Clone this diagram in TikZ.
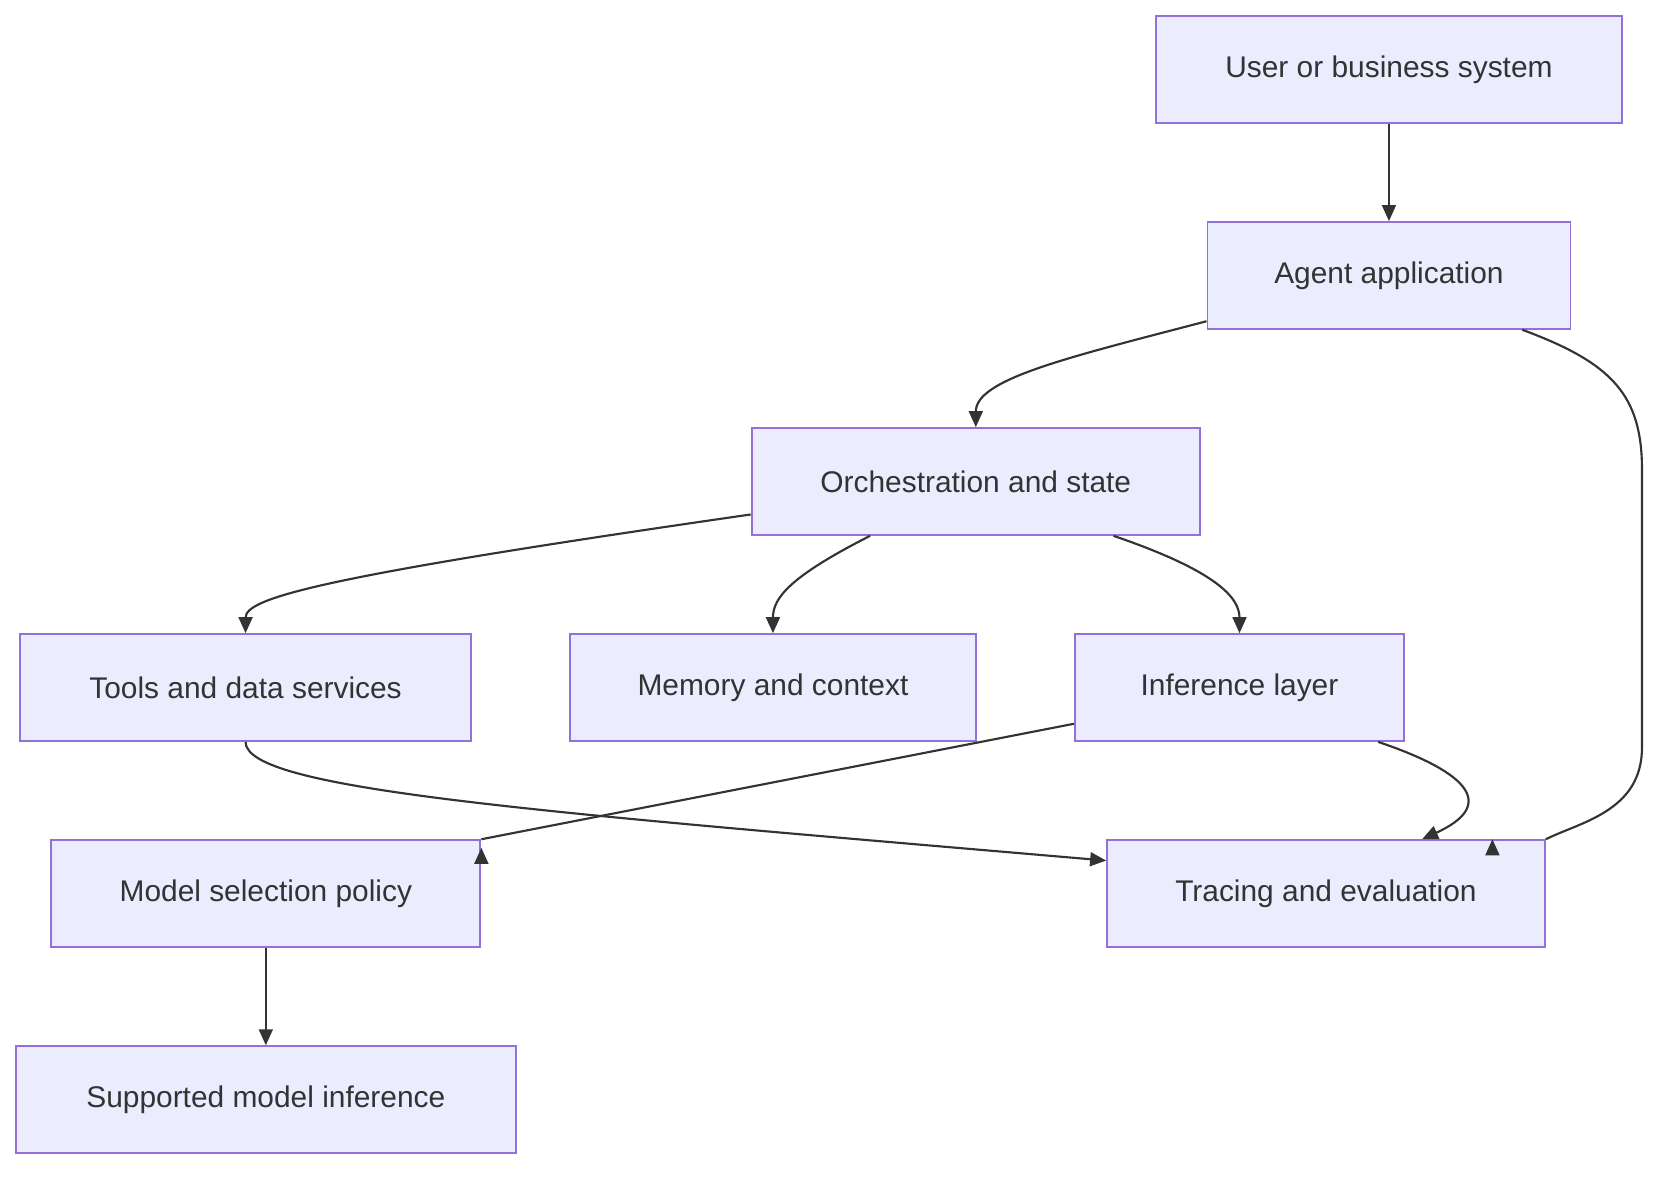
\documentclass[tikz,border=0pt]{standalone}
\usepackage{fontspec}
\setmainfont{Liberation Sans}
\usetikzlibrary{arrows.meta}
\definecolor{boxfill}{HTML}{ECECFF}
\definecolor{boxline}{HTML}{9370DB}
\definecolor{ink}{HTML}{333333}
\tikzset{
  blk/.style={shape=rectangle,draw=boxline,fill=boxfill,line width=1.8pt,text=ink,
    minimum height=100pt,inner sep=0pt,font=\fontsize{28}{34}\selectfont},
  lnk/.style={draw=ink,line width=2pt,-{Triangle[length=15pt,width=13pt]}}
}
\begin{document}
\begin{tikzpicture}[x=1pt,y=-1pt]
        \useasboundingbox (0,0) rectangle (1568,1105);
        \node[blk,minimum width=436pt](user) at (1301,65)  {User or business system};
        \node[blk,minimum width=340pt](agent) at (1301,258)  {Agent application};
        \node[blk,minimum width=420pt](orch) at (914,451)  {Orchestration and state};
        \node[blk,minimum width=422pt](tools) at (230,644)  {Tools and data services};
        \node[blk,minimum width=380pt](mem) at (724,644)  {Memory and context};
        \node[blk,minimum width=308pt](infer) at (1161,644)  {Inference layer};
        \node[blk,minimum width=402pt](policy) at (249,837)  {Model selection policy};
        \node[blk,minimum width=410pt](trace) at (1242,837)  {Tracing and evaluation};
        \node[blk,minimum width=468pt](supp) at (249,1030)  {Supported model inference};
        % connectors
        \draw[lnk] (user) -- (agent);
        \draw[lnk] (agent.south west) ++(0,-8) coordinate (b1)
             .. controls (1000,335) and (914,355) .. (orch.north);
        \draw[lnk] (agent.south east) ++(-46,0) coordinate (b2)
             .. controls (1510,340) and (1538,370) .. (1538,440) -- (1538,700)
             .. controls (1538,760) and (1480,770) .. (trace.north east) ++(-50,0) coordinate (b3);
        \draw[lnk] (orch.south west) ++(0,-20) coordinate (c1)
             .. controls (300,540) and (230,560) .. (tools.north);
        \draw[lnk] (orch.south) ++(-99,0) coordinate (c2)
             .. controls (740,540) and (724,560) .. (mem.north);
        \draw[lnk] (orch.south) ++(129,0) coordinate (c3)
             .. controls (1140,535) and (1161,560) .. (infer.north);
        \draw[lnk] (infer.south west) ++(0,-17) coordinate (f1) -- (policy.north east) ++(0,8) coordinate (g1);
        \draw[lnk] (tools.south) .. controls (230,740) and (500,760) .. ([yshift=-20pt]trace.north west);
        \draw[lnk] (infer.south east) ++(-25,0) coordinate (f2)
             .. controls (1380,725) and (1400,755) .. ([xshift=90pt]trace.north);
        \draw[lnk] (policy) -- (supp);
\end{tikzpicture}
\end{document}
